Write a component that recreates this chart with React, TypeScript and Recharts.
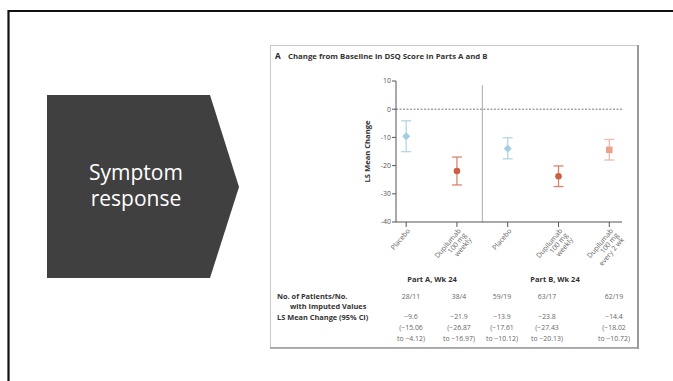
import React from "react"
import { ComposedChart, Scatter, ErrorBar, XAxis, YAxis, ReferenceLine } from "recharts"

// arms in plotting order (Part A: 2 arms, Part B: 3 arms)
const armLabels = [
  ["Placebo"],
  ["Dupilumab", "100 mg", "weekly"],
  ["Placebo"],
  ["Dupilumab", "100 mg", "weekly"],
  ["Dupilumab", "100 mg", "every 2 wk"],
]
const armKind = ["placebo", "weekly", "placebo", "weekly", "q2w"]
const lsMean = [-9.6, -21.9, -13.9, -23.8, -14.4]
const ciLow = [-15.06, -26.87, -17.61, -27.43, -18.02]
const ciHigh = [-4.12, -16.97, -10.12, -20.13, -10.72]
const imputed = ["28/11", "38/4", "59/19", "63/17", "62/19"]
const parts = ["Part A, Wk 24", "Part B, Wk 24"]
const yTicks = [10, 0, -10, -20, -30, -40]
const armTicks = [1, 2, 3, 4, 5]

const rows = lsMean.map((m, i) => ({
  x: i + 1,
  y: m,
  err: [m - ciLow[i], ciHigh[i] - m],
  kind: armKind[i],
}))

const font = "'Open Sans', sans-serif"
const minus = (s: string) => s.replace("-", "\u2212")

const Diamond = (p: any) => (
  <path d={`M${p.cx},${p.cy - 4}L${p.cx + 4},${p.cy}L${p.cx},${p.cy + 4}L${p.cx - 4},${p.cy}Z`} fill={p.fill} />
)
const Dot = (p: any) => <circle cx={p.cx} cy={p.cy} r={3.3} fill={p.fill} />
const Square = (p: any) => <rect x={p.cx - 3.3} y={p.cy - 3.3} width={6.6} height={6.6} fill={p.fill} />

const kinds = [
  { key: "placebo", color: "#a3cde0", bar: "#b5d6e4", shape: Diamond },
  { key: "weekly", color: "#cc5f44", bar: "#d88570", shape: Dot },
  { key: "q2w", color: "#e9a28c", bar: "#eebaa9", shape: Square },
]

function ArmTick({ x, y, payload }: any) {
  const lines = armLabels[payload.value - 1] ?? []
  return (
    <g transform={`translate(${x + 2},${y})`}>
      <text transform="rotate(-50)" textAnchor="end" fontSize={7} fill="#666" fontFamily={font}>
        {lines.map((l, i) => (
          <tspan key={i} x={0} dy={i === 0 ? 3 : 7}>
            {l}
          </tspan>
        ))}
      </text>
    </g>
  )
}

const colX = [411, 459, 502, 547, 614]

export default function App() {
  return (
    <div style={{ position: "absolute", left: 0, top: 0, width: 673, height: 381, background: "#fff", overflow: "hidden" }}>
      <svg width={673} height={381} style={{ position: "absolute", left: 0, top: 0 }}>
        <line x1={8} y1={11} x2={673} y2={11} stroke="#111" strokeWidth={2.2} />
        <line x1={8.5} y1={10} x2={8.5} y2={381} stroke="#111" strokeWidth={2.2} />

        <polygon points="47,95 210,95 239,187 210,278 47,278" fill="#404040" />
        <text x={136} y={180} textAnchor="middle" fill="#fff" fontSize={21} fontFamily={font}>Symptom</text>
        <text x={136} y={206} textAnchor="middle" fill="#fff" fontSize={21} fontFamily={font}>response</text>

        <rect x={270.5} y={45.5} width={367} height={302} fill="none" stroke="#c8c8c8" strokeWidth={1} />
        <line x1={638} y1={45} x2={638} y2={349} stroke="#999" strokeWidth={2} />
        <line x1={270} y1={348} x2={639} y2={348} stroke="#999" strokeWidth={1.5} />

        <text x={275} y={59} fontSize={8.2} fontWeight={700} fill="#222" fontFamily={font}>A</text>
        <text x={288} y={59} fontSize={7.8} fontWeight={700} fill="#333" fontFamily={font}>
          Change from Baseline in DSQ Score in Parts A and B
        </text>

        <text x={432} y={282} textAnchor="middle" fontSize={7.5} fontWeight={700} fill="#333" fontFamily={font}>{parts[0]}</text>
        <text x={555} y={282} textAnchor="middle" fontSize={7.5} fontWeight={700} fill="#333" fontFamily={font}>{parts[1]}</text>

        <g fontSize={7.4} fontWeight={700} fill="#333" fontFamily={font}>
          <text x={277} y={298.5}>No. of Patients/No.</text>
          <text x={290} y={308.5}>with Imputed Values</text>
          <text x={277} y={319.5}>LS Mean Change (95% CI)</text>
        </g>
        <g fontSize={6.9} fill="#666" fontFamily={font} textAnchor="middle">
          {imputed.map((v, i) => (
            <text key={"n" + i} x={colX[i]} y={298.5}>{v}</text>
          ))}
          {lsMean.map((v, i) => (
            <g key={"m" + i}>
              <text x={colX[i]} y={319}>{minus(v.toFixed(1))}</text>
              <text x={colX[i]} y={330}>{"(" + minus(ciLow[i].toFixed(2))}</text>
              <text x={colX[i]} y={341}>{"to " + minus(ciHigh[i].toFixed(2)) + ")"}</text>
            </g>
          ))}
        </g>
      </svg>

      <div style={{ position: "absolute", left: 271, top: 46 }}>
        <ComposedChart width={366} height={300} margin={{ top: 35, right: 15, bottom: 94, left: 95 }}>
          <XAxis
            type="number"
            dataKey="x"
            domain={[0.8, 5.25]}
            ticks={armTicks}
            interval={0}
            allowDataOverflow
            height={30}
            tick={<ArmTick />}
            tickSize={5}
            tickMargin={2}
            stroke="#555"
          />
          <YAxis
            type="number"
            dataKey="y"
            domain={[-40, 10]}
            ticks={yTicks}
            interval={0}
            allowDataOverflow
            width={30}
            tickSize={4}
            tickMargin={1}
            tick={{ fontSize: 7, fill: "#555", fontFamily: font }}
            stroke="#555"
            label={{
              content: ({ viewBox }: any) => (
                <text
                  x={viewBox.x + 1}
                  y={viewBox.y + viewBox.height / 2}
                  transform={`rotate(-90, ${viewBox.x + 1}, ${viewBox.y + viewBox.height / 2})`}
                  textAnchor="middle"
                  dominantBaseline="central"
                  fontSize={7.6}
                  fontWeight={700}
                  fill="#333"
                  fontFamily={font}
                >
                  LS Mean Change
                </text>
              ),
            }}
          />
          <ReferenceLine y={0} stroke="#777" strokeDasharray="2 1.5" />
          <ReferenceLine segment={[{ x: 2.5, y: -40 }, { x: 2.5, y: 8.5 }]} stroke="#aaa" />
          {kinds.map((k) => (
            <Scatter
              key={k.key}
              data={rows.filter((r) => r.kind === k.key)}
              dataKey="y"
              fill={k.color}
              shape={k.shape}
              isAnimationActive={false}
            >
              <ErrorBar dataKey="err" direction="y" width={5} stroke={k.bar} strokeWidth={1.3} isAnimationActive={false} />
            </Scatter>
          ))}
        </ComposedChart>
      </div>
    </div>
  )
}
